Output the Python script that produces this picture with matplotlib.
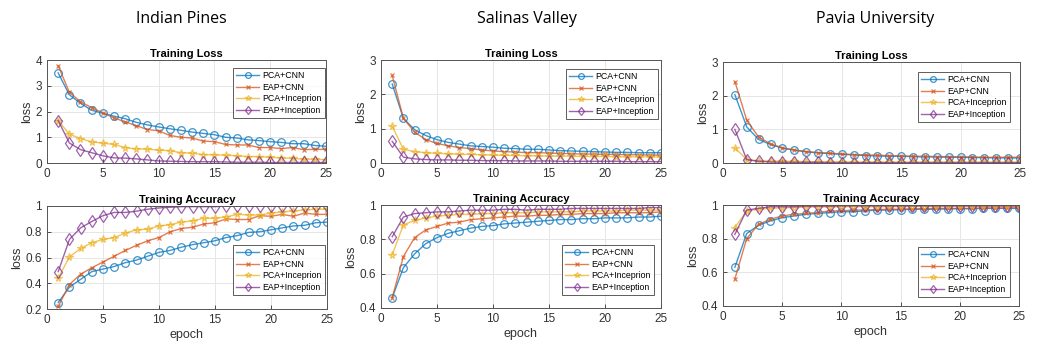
import matplotlib.pyplot as plt
import numpy as np

epochs = np.arange(1, 26)
series = ['PCA+CNN', 'EAP+CNN', 'PCA+Inceprion', 'EAP+Inception']
datasets = ['Indian Pines', 'Salinas Valley', 'Pavia University']

# Indian Pines
ip_loss = {
    'PCA+CNN': [3.5, 2.65, 2.32, 2.05, 1.93, 1.82, 1.72, 1.58, 1.48, 1.4, 1.33, 1.27, 1.2, 1.15, 1.1,
                1.0, 0.97, 0.9, 0.87, 0.83, 0.8, 0.75, 0.75, 0.68, 0.65],
    'EAP+CNN': [3.78, 2.75, 2.38, 2.15, 1.95, 1.75, 1.6, 1.45, 1.3, 1.25, 1.07, 1.0, 0.97, 0.85, 0.83,
                0.72, 0.7, 0.7, 0.6, 0.6, 0.56, 0.6, 0.52, 0.53, 0.53],
    'PCA+Inceprion': [1.65, 1.12, 0.95, 0.82, 0.77, 0.72, 0.6, 0.55, 0.54, 0.5, 0.48, 0.4, 0.38, 0.33, 0.32,
                      0.3, 0.28, 0.25, 0.25, 0.22, 0.2, 0.18, 0.15, 0.14, 0.13],
    'EAP+Inception': [1.65, 0.78, 0.52, 0.4, 0.28, 0.2, 0.19, 0.16, 0.12, 0.08, 0.07, 0.06, 0.05, 0.05, 0.05,
                      0.04, 0.03, 0.03, 0.03, 0.02, 0.02, 0.02, 0.02, 0.02, 0.02],
}
ip_acc = {
    'PCA+CNN': [0.25, 0.37, 0.43, 0.49, 0.51, 0.53, 0.56, 0.58, 0.61, 0.64, 0.655, 0.68, 0.7, 0.715, 0.73,
                0.755, 0.77, 0.795, 0.8, 0.815, 0.83, 0.845, 0.85, 0.87, 0.875],
    'EAP+CNN': [0.22, 0.39, 0.47, 0.52, 0.565, 0.61, 0.655, 0.695, 0.73, 0.755, 0.8, 0.825, 0.835, 0.86, 0.87,
                0.9, 0.895, 0.895, 0.925, 0.92, 0.935, 0.92, 0.945, 0.935, 0.935],
    'PCA+Inceprion': [0.44, 0.605, 0.67, 0.715, 0.74, 0.755, 0.79, 0.815, 0.82, 0.845, 0.855, 0.875, 0.885,
                      0.905, 0.905, 0.915, 0.935, 0.93, 0.93, 0.945, 0.955, 0.96, 0.97, 0.975, 0.975],
    'EAP+Inception': [0.49, 0.74, 0.83, 0.88, 0.925, 0.95, 0.95, 0.96, 0.975, 0.985, 0.99, 0.995, 0.995,
                      0.995, 0.995, 1.0, 1.0, 1.0, 1.0, 1.0, 1.0, 1.0, 1.0, 1.0, 1.0],
}

# Salinas Valley
sv_loss = {
    'PCA+CNN': [2.3, 1.3, 0.97, 0.8, 0.68, 0.6, 0.55, 0.5, 0.48, 0.46, 0.43, 0.42, 0.4, 0.4, 0.38,
                0.36, 0.35, 0.34, 0.33, 0.32, 0.31, 0.31, 0.3, 0.3, 0.3],
    'EAP+CNN': [2.55, 1.3, 0.9, 0.68, 0.57, 0.5, 0.45, 0.42, 0.38, 0.35, 0.33, 0.32, 0.3, 0.3, 0.29,
                0.28, 0.27, 0.26, 0.26, 0.25, 0.25, 0.24, 0.24, 0.23, 0.23],
    'PCA+Inceprion': [1.07, 0.4, 0.33, 0.3, 0.28, 0.27, 0.25, 0.25, 0.24, 0.23, 0.22, 0.22, 0.21, 0.21, 0.2,
                      0.2, 0.2, 0.19, 0.19, 0.19, 0.18, 0.18, 0.18, 0.18, 0.17],
    'EAP+Inception': [0.63, 0.17, 0.12, 0.1, 0.09, 0.09, 0.08, 0.08, 0.07, 0.07, 0.07, 0.06, 0.06, 0.06, 0.06,
                      0.05, 0.05, 0.05, 0.05, 0.05, 0.05, 0.04, 0.04, 0.04, 0.04],
}
sv_acc = {
    'PCA+CNN': [0.46, 0.635, 0.715, 0.775, 0.81, 0.835, 0.85, 0.865, 0.875, 0.88, 0.89, 0.895, 0.9, 0.905,
                0.91, 0.915, 0.915, 0.92, 0.92, 0.925, 0.925, 0.925, 0.93, 0.93, 0.935],
    'EAP+CNN': [0.46, 0.7, 0.81, 0.855, 0.875, 0.895, 0.9, 0.915, 0.92, 0.925, 0.93, 0.935, 0.935, 0.94,
                0.94, 0.945, 0.945, 0.95, 0.95, 0.95, 0.955, 0.955, 0.955, 0.955, 0.96],
    'PCA+Inceprion': [0.71, 0.885, 0.91, 0.925, 0.935, 0.94, 0.945, 0.945, 0.95, 0.95, 0.955, 0.955, 0.955,
                      0.96, 0.96, 0.96, 0.96, 0.965, 0.965, 0.965, 0.965, 0.97, 0.97, 0.97, 0.97],
    'EAP+Inception': [0.815, 0.93, 0.95, 0.955, 0.96, 0.96, 0.965, 0.97, 0.97, 0.97, 0.975, 0.975, 0.97,
                      0.975, 0.975, 0.975, 0.98, 0.98, 0.98, 0.98, 0.98, 0.98, 0.98, 0.985, 0.985],
}

# Pavia University
pu_loss = {
    'PCA+CNN': [2.03, 1.07, 0.7, 0.55, 0.44, 0.38, 0.33, 0.3, 0.28, 0.26, 0.24, 0.22, 0.21, 0.2, 0.2,
                0.19, 0.18, 0.18, 0.17, 0.17, 0.16, 0.16, 0.15, 0.15, 0.15],
    'EAP+CNN': [2.42, 1.27, 0.77, 0.57, 0.45, 0.39, 0.34, 0.31, 0.29, 0.27, 0.25, 0.24, 0.23, 0.22, 0.21,
                0.2, 0.2, 0.19, 0.19, 0.18, 0.18, 0.17, 0.17, 0.17, 0.17],
    'PCA+Inceprion': [0.45, 0.1, 0.07, 0.06, 0.05, 0.05, 0.04, 0.04, 0.04, 0.04, 0.03, 0.03, 0.03, 0.03, 0.03,
                      0.03, 0.03, 0.03, 0.03, 0.03, 0.03, 0.03, 0.03, 0.03, 0.03],
    'EAP+Inception': [1.0, 0.1, 0.05, 0.03, 0.02, 0.02, 0.02, 0.02, 0.01, 0.01, 0.01, 0.01, 0.01, 0.01, 0.01,
                      0.01, 0.01, 0.01, 0.01, 0.01, 0.01, 0.01, 0.01, 0.01, 0.01],
}
pu_acc = {
    'PCA+CNN': [0.63, 0.83, 0.88, 0.905, 0.925, 0.935, 0.945, 0.95, 0.955, 0.96, 0.96, 0.965, 0.97, 0.97,
                0.972, 0.975, 0.975, 0.975, 0.977, 0.978, 0.978, 0.98, 0.98, 0.98, 0.98],
    'EAP+CNN': [0.56, 0.8, 0.885, 0.915, 0.935, 0.945, 0.95, 0.955, 0.965, 0.965, 0.97, 0.97, 0.972, 0.975,
                0.975, 0.977, 0.978, 0.98, 0.98, 0.98, 0.98, 0.982, 0.982, 0.983, 0.983],
    'PCA+Inceprion': [0.865, 0.965, 0.975, 0.98, 0.983, 0.985, 0.987, 0.988, 0.988, 0.99, 0.99, 0.99, 0.99,
                      0.99, 0.991, 0.991, 0.991, 0.991, 0.992, 0.992, 0.992, 0.992, 0.992, 0.992, 0.992],
    'EAP+Inception': [0.825, 0.97, 0.98, 0.99, 0.99, 0.99, 0.993, 0.993, 0.993, 0.995, 0.995, 0.995, 0.995,
                      0.995, 0.995, 0.995, 0.995, 0.995, 0.995, 0.995, 0.995, 0.995, 0.995, 0.995, 0.995],
}

colors = ['#0072BD', '#D95319', '#EDB120', '#7E2F8E']
markers = ['o', 'x', '*', 'd']
msizes = [5.5, 3.5, 5.5, 6]

W, H = 1056, 343
fig = plt.figure(figsize=(W / 100, H / 100), dpi=100)
plt.rcParams['font.family'] = 'Liberation Sans'


def px_axes(l, r, t, b):
    return fig.add_axes([l / W, (H - b) / H, (r - l) / W, (b - t) / H])


def draw(ax, data, title, ylim, yticks, legend_loc, xlabel=False):
    for s, c, m, ms in zip(series, colors, markers, msizes):
        ax.plot(epochs, data[s], color=c, marker=m, markersize=ms, markerfacecolor='none',
                markeredgewidth=0.9, linewidth=1.0, alpha=0.75, label=s)
    ax.set_xlim(0, 25)
    ax.set_ylim(*ylim)
    ax.set_xticks([0, 5, 10, 15, 20, 25])
    ax.set_yticks(yticks)
    ax.set_yticklabels([('%g' % v) for v in yticks])
    ax.grid(True, color='#e6e6e6', linewidth=0.7)
    ax.set_axisbelow(True)
    for sp in ax.spines.values():
        sp.set_color('#555555')
        sp.set_linewidth(0.7)
    ax.tick_params(labelsize=8.5, colors='#333333', direction='in', length=3, width=0.6)
    ax.set_title(title, fontsize=8, fontweight='bold', pad=2)
    ax.set_ylabel('loss', fontsize=9, color='#333333', labelpad=2)
    if xlabel:
        ax.set_xlabel('epoch', fontsize=9, color='#333333', labelpad=2)
    leg = ax.legend(loc='upper right', bbox_to_anchor=legend_loc, fontsize=6.3, frameon=True,
                    fancybox=False, edgecolor='#333333', borderpad=0.35, labelspacing=0.3,
                    handlelength=2.6, handletextpad=0.4, borderaxespad=0, markerscale=0.75)
    leg.get_frame().set_linewidth(0.7)


# pixel boxes: left, right, top, bottom
top_boxes = [(47, 326, 60, 163), (381, 661, 60, 163), (723, 1020, 62, 163)]
bot_boxes = [(47, 327, 206, 309), (381, 661, 205, 308), (723, 1019, 205, 306)]
losses = [ip_loss, sv_loss, pu_loss]
accs = [ip_acc, sv_acc, pu_acc]
loss_lims = [(0, 4), (0, 3), (0, 3)]
acc_lims = [(0.2, 1), (0.4, 1), (0.4, 1)]
acc_ticks = [[0.2, 0.4, 0.6, 0.8, 1], [0.4, 0.6, 0.8, 1], [0.4, 0.6, 0.8, 1]]
# legend top-right corners in pixels
top_leg = [(325, 68), (658, 69), (1010, 72)]
bot_leg = [(325, 245), (654, 245), (1010, 247)]
title_x = [181, 527, 875]

for i in range(3):
    l, r, t, b = top_boxes[i]
    ax = px_axes(l, r, t, b)
    lx, ly = top_leg[i]
    draw(ax, losses[i], 'Training Loss', loss_lims[i], np.arange(0, loss_lims[i][1] + 1, 1),
         ((lx - l) / (r - l), (b - ly) / (b - t)))
    l, r, t, b = bot_boxes[i]
    ax = px_axes(l, r, t, b)
    lx, ly = bot_leg[i]
    draw(ax, accs[i], 'Training Accuracy', acc_lims[i], acc_ticks[i],
         ((lx - l) / (r - l), (b - ly) / (b - t)), xlabel=True)
    fig.text(title_x[i] / W, 1 - 19 / H, datasets[i], ha='center', va='center', fontsize=11.5,
             family='Open Sans')

fig.savefig('out.png', dpi=100)
